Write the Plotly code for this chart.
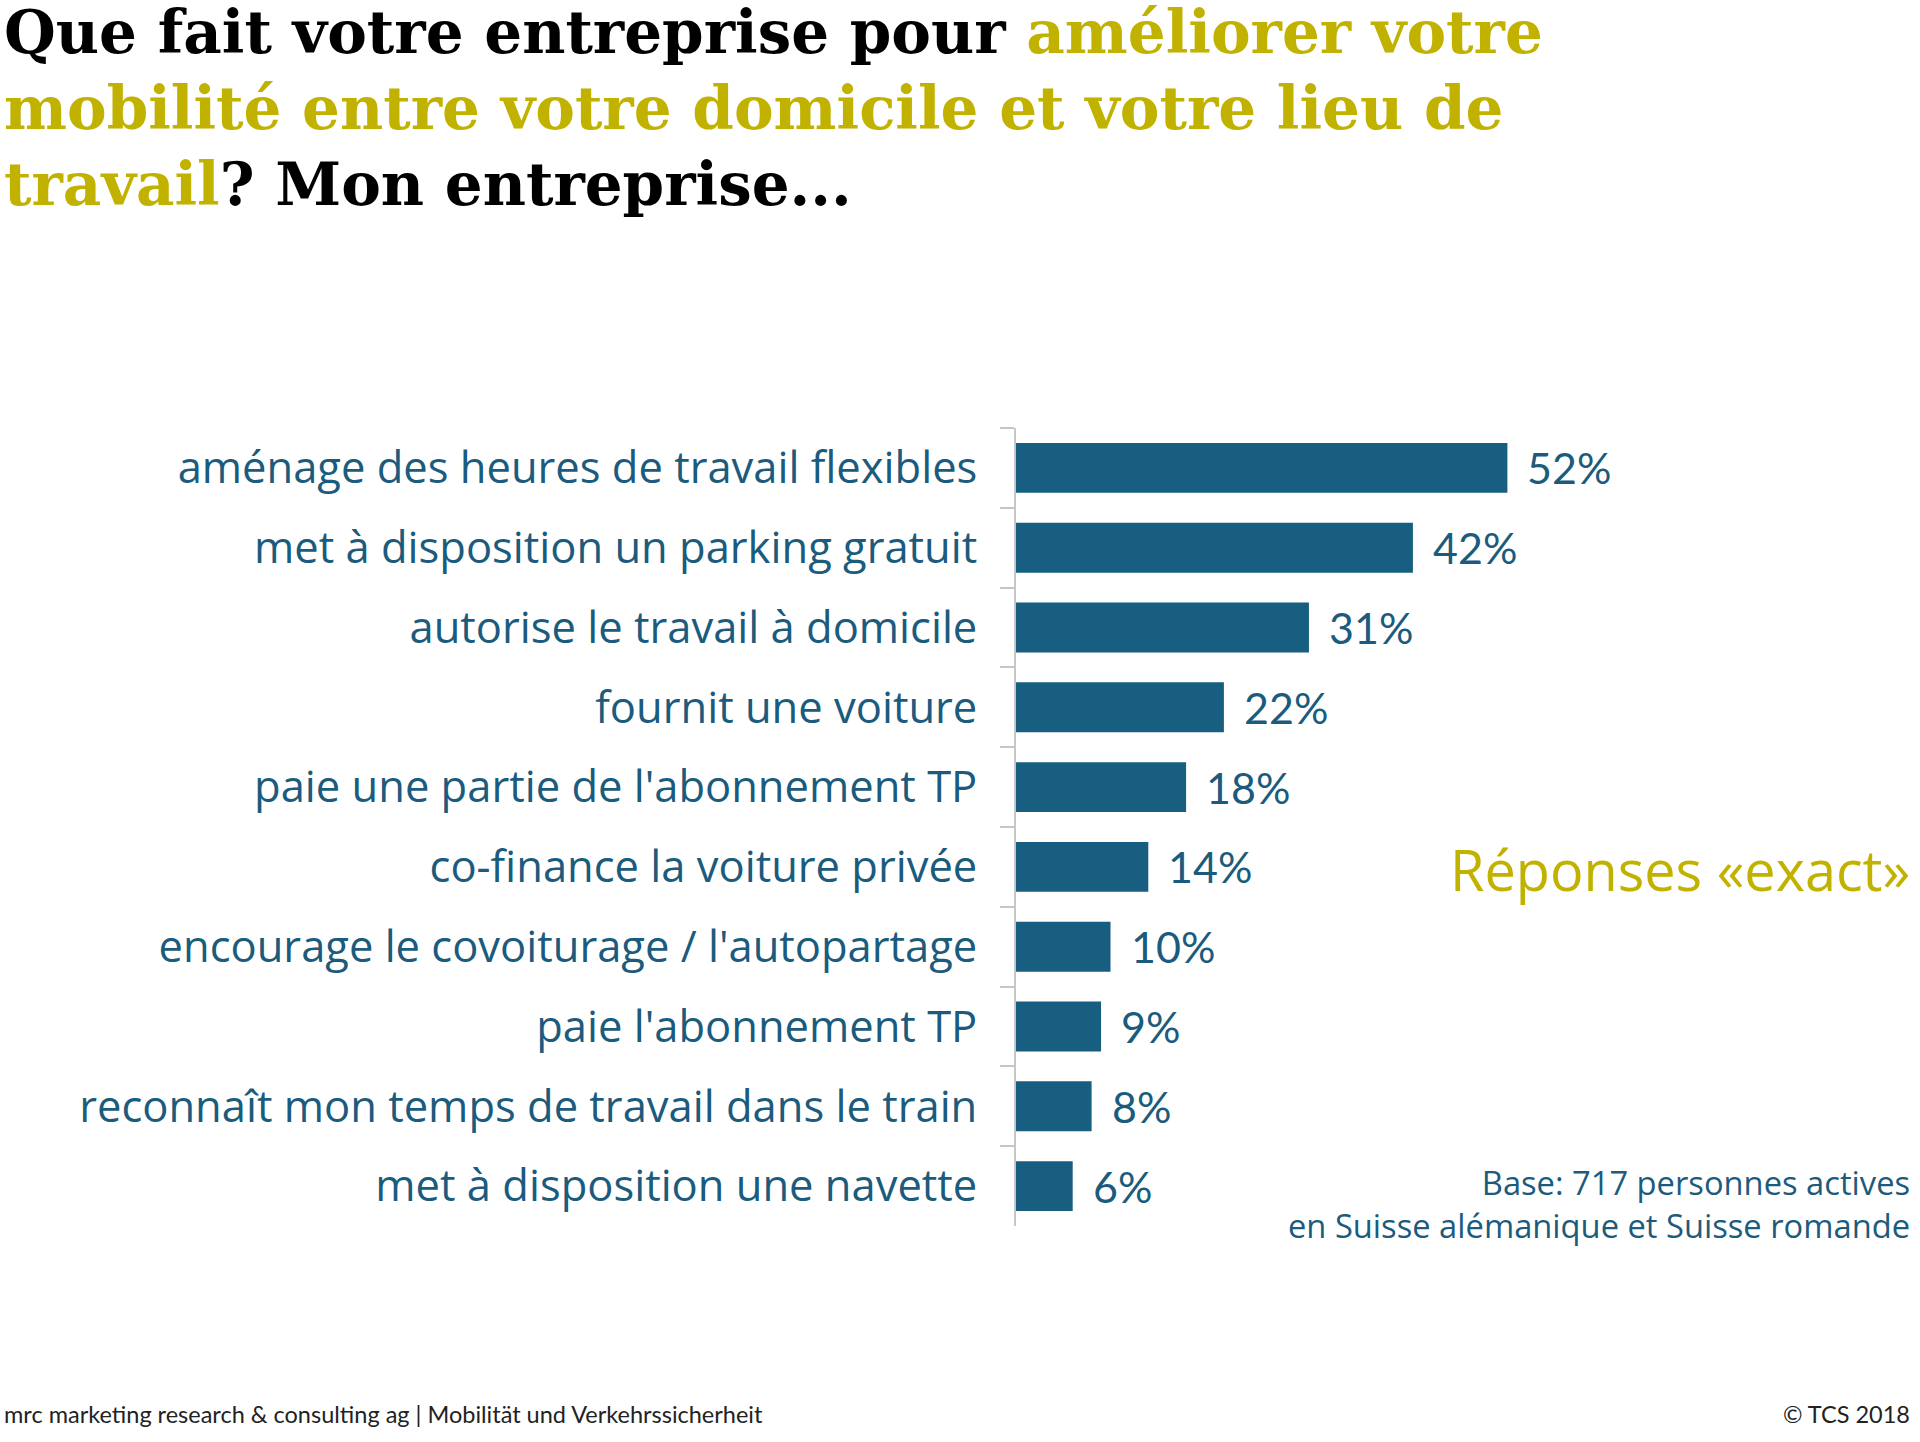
import plotly.graph_objects as go

categories = [
    "aménage des heures de travail flexibles",
    "met à disposition un parking gratuit",
    "autorise le travail à domicile",
    "fournit une voiture",
    "paie une partie de l'abonnement TP",
    "co-finance la voiture privée",
    "encourage le covoiturage / l'autopartage",
    "paie l'abonnement TP",
    "reconnaît mon temps de travail dans le train",
    "met à disposition une navette",
]
values = [52, 42, 31, 22, 18, 14, 10, 9, 8, 6]
value_labels = [f"{v}%" for v in values]

title_lines = [
    "Que fait votre entreprise pour <span style='color:#c2b200'>améliorer votre</span>",
    "<span style='color:#c2b200'>mobilité entre votre domicile et votre lieu de</span>",
    "<span style='color:#c2b200'>travail</span>? Mon entreprise...",
]
subtitle = "Réponses «exact»"
base_note = "Base: 717 personnes actives<br>en Suisse alémanique et Suisse romande"
footer_left = "mrc marketing research &amp; consulting ag | Mobilität und Verkehrssicherheit"
footer_right = "© TCS 2018"

BLUE = "#175e80"
TEXT_BLUE = "#1b5b7d"
OLIVE = "#c2b200"
GREY = "#c6c6c6"

W, H = 1920, 1442
L, T, B, R = 1016, 428, 1442 - 1226, 0
PX_PER_PCT = 9.45
xmax = (W - L - R) / PX_PER_PCT
PLOT_H = H - T - B

LABEL_FONT = "Open Sans"
VALUE_FONT = "Lato"


def py(px):
    # pixel row (from top of figure) -> paper coordinate
    return (H - B - px) / PLOT_H


fig = go.Figure(
    go.Bar(
        x=values,
        y=categories,
        orientation="h",
        marker=dict(color=BLUE, line=dict(width=0)),
        hoverinfo="skip",
    )
)

annotations = []
for v, c, t in zip(values, categories, value_labels):
    annotations.append(dict(
        x=v, y=c, xref="x", yref="y", text=t, showarrow=False,
        xanchor="left", yanchor="middle", xshift=18,
        font=dict(family=VALUE_FONT, size=43, color=TEXT_BLUE),
    ))

title_y = [32, 108, 184]
for line, yy in zip(title_lines, title_y):
    annotations.append(dict(
        x=0, y=py(yy), xref="paper", yref="paper", text=line, showarrow=False,
        xanchor="left", yanchor="middle", xshift=-L + 2,
        font=dict(family="DejaVu Serif", size=59.5, color="#000000", weight="bold"),
    ))

annotations.append(dict(
    x=1, y=py(869), xref="paper", yref="paper", text=subtitle, showarrow=False,
    xanchor="right", yanchor="middle", xshift=-8,
    font=dict(family=LABEL_FONT, size=55.8, color=OLIVE),
))
annotations.append(dict(
    x=1, y=py(1204), xref="paper", yref="paper", text=base_note, showarrow=False,
    xanchor="right", yanchor="middle", align="right", xshift=-8,
    font=dict(family=LABEL_FONT, size=32.7, color=TEXT_BLUE),
))
annotations.append(dict(
    x=0, y=py(1414), xref="paper", yref="paper", text=footer_left, showarrow=False,
    xanchor="left", yanchor="middle", xshift=-L + 2,
    font=dict(family=VALUE_FONT, size=23.5, color="#222222"),
))
annotations.append(dict(
    x=1, y=py(1414), xref="paper", yref="paper", text=footer_right, showarrow=False,
    xanchor="right", yanchor="middle", xshift=-8,
    font=dict(family=VALUE_FONT, size=23.5, color="#222222"),
))

fig.update_layout(
    width=W, height=H,
    margin=dict(l=L, r=R, t=T, b=B, autoexpand=False),
    paper_bgcolor="white", plot_bgcolor="white",
    bargap=0.375,
    showlegend=False,
    annotations=annotations,
)
fig.update_xaxes(range=[0, xmax], visible=False, fixedrange=True)
fig.update_yaxes(
    type="category",
    range=[len(categories) - 0.5, -0.5],
    showline=True, linecolor=GREY, linewidth=2,
    ticks="outside", ticklen=14, tickwidth=2, tickcolor=GREY,
    tickson="boundaries",
    ticklabelstandoff=28,
    tickfont=dict(family=LABEL_FONT, size=43.5, color=TEXT_BLUE),
    showgrid=False, zeroline=False, fixedrange=True,
)

fig.write_html("out.html")
